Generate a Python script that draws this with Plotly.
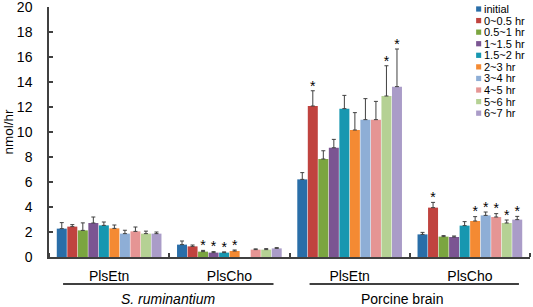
import plotly.graph_objects as go

groups = ["S. ruminantium", "Porcine brain"]
tick_labels = ["PlsEtn", "PlsCho", "PlsEtn", "PlsCho"]
series_names = ["initial", "0~0.5 hr", "0.5~1 hr", "1~1.5 hr", "1.5~2 hr",
                "2~3 hr", "3~4 hr", "4~5 hr", "5~6 hr", "6~7 hr"]
colors = ["#2a6ea8", "#c0433f", "#7ba540", "#7b5592", "#1797b0",
          "#f48a33", "#8eaed6", "#e59594", "#b5d194", "#aa9cc8"]

# values[series][category]
values = [
    [2.27, 0.99, 6.21, 1.81],
    [2.43, 0.85, 12.08, 3.95],
    [2.13, 0.43, 7.84, 1.63],
    [2.72, 0.35, 8.74, 1.60],
    [2.53, 0.35, 11.87, 2.51],
    [2.29, 0.48, 10.16, 2.88],
    [1.87, None, 10.99, 3.33],
    [2.05, 0.59, 10.99, 3.20],
    [1.87, 0.59, 12.88, 2.72],
    [1.87, 0.69, 13.63, 2.99],
]
errors = [
    [0.48, 0.29, 0.54, 0.16],
    [0.16, 0.11, 1.22, 0.42],
    [0.60, 0.10, 0.66, 0.08],
    [0.48, 0.08, 0.67, 0.08],
    [0.27, 0.06, 1.06, 0.32],
    [0.27, 0.08, 1.39, 0.35],
    [0.27, 0.0, 1.68, 0.27],
    [0.35, 0.06, 1.46, 0.27],
    [0.20, 0.08, 2.42, 0.24],
    [0.13, 0.06, 3.01, 0.26],
]
# significance markers
stars = [
    [0, 0, 0, 0],
    [0, 0, 1, 1],
    [0, 1, 0, 0],
    [0, 1, 0, 0],
    [0, 1, 0, 0],
    [0, 1, 0, 1],
    [0, 0, 0, 1],
    [0, 0, 0, 1],
    [0, 0, 1, 1],
    [0, 0, 1, 1],
]
STAR_PAD = 0.3  # gap between error-bar cap and asterisk, in data units

xpos = list(range(len(tick_labels)))

fig = go.Figure()
for i, name in enumerate(series_names):
    fig.add_trace(go.Bar(
        x=xpos, y=values[i], name=name, offsetgroup=str(i), showlegend=False,
        marker=dict(color=colors[i], line=dict(width=0)),
        error_y=dict(type="data", array=errors[i], arrayminus=[0] * 4,
                     symmetric=False, color="#404040", thickness=1, width=2),
    ))
for i, name in enumerate(series_names):
    ys = [(v + e + STAR_PAD) if v is not None else None
          for v, e in zip(values[i], errors[i])]
    fig.add_trace(go.Scatter(
        x=xpos, y=ys, offsetgroup=str(i), showlegend=False, mode="text",
        text=["*" if s else "" for s in stars[i]],
        textposition="middle center", cliponaxis=False,
        textfont=dict(size=14, color="#000000", family="Liberation Sans"),
        hoverinfo="skip",
    ))

# compact legend (squares + labels), laid out in paper coordinates
leg_x0, leg_y0, leg_step = 0.888, 0.992, 0.0463
for i, name in enumerate(series_names):
    yc = leg_y0 - i * leg_step
    fig.add_shape(type="rect", xref="paper", yref="paper",
                  x0=leg_x0, x1=leg_x0 + 0.0105, y0=yc - 0.0105, y1=yc + 0.0105,
                  fillcolor=colors[i], line=dict(width=0))
    fig.add_annotation(text=name, xref="paper", yref="paper",
                       x=leg_x0 + 0.0125, y=yc, xanchor="left", yanchor="middle",
                       showarrow=False, font=dict(size=11))

fig.update_layout(
    width=533, height=307,
    margin=dict(l=49, r=3, t=7, b=50),
    plot_bgcolor="white", paper_bgcolor="white",
    barmode="group", bargap=0.125, bargroupgap=0.05,
    scattermode="group", scattergap=0.125, showlegend=False,
    font=dict(family="Liberation Sans, Arial, sans-serif", size=14, color="#000000"),
    xaxis=dict(range=[-0.5, 3.5], tickmode="array", tickvals=xpos,
               ticktext=tick_labels, ticks="", showgrid=False, zeroline=False,
               showline=True, linecolor="#404040", linewidth=1.5,
               ticklabelstandoff=5, automargin=False,
               minor=dict(tickvals=[-0.5, 0.5, 1.5, 2.5, 3.5], ticks="inside",
                          ticklen=4, tickcolor="#404040", tickwidth=1.5,
                          showgrid=False)),
    yaxis=dict(range=[0, 20], dtick=2, ticks="inside", ticklen=4,
               tickcolor="#404040", tickwidth=1.5, showgrid=False,
               zeroline=False, showline=True, linecolor="#404040",
               linewidth=1.5, automargin=False, ticklabelstandoff=12,
               ticklabeloverflow="allow",
               title=dict(text="nmol/hr", standoff=0, font=dict(size=13.5))),
)

# group underlines and labels
group_spans = [(-0.383, 1.367), (1.667, 3.408)]
group_centers = [0.49, 2.44]
for g, (x0, x1), xc in zip(groups, group_spans, group_centers):
    fig.add_shape(type="line", xref="x", yref="paper", x0=x0, x1=x1,
                  y0=-0.108, y1=-0.108, line=dict(color="#000000", width=1.5))
    label = "<i>%s</i>" % g if g.startswith("S.") else g
    fig.add_annotation(text=label, xref="x", yref="paper",
                       x=xc, y=-0.166, showarrow=False, font=dict(size=14),
                       xanchor="center", yanchor="middle")

fig.write_html(
    "out.html",
    config={"displayModeBar": False},
    post_script="document.body.style.margin='0';document.body.style.overflow='hidden';",
)
